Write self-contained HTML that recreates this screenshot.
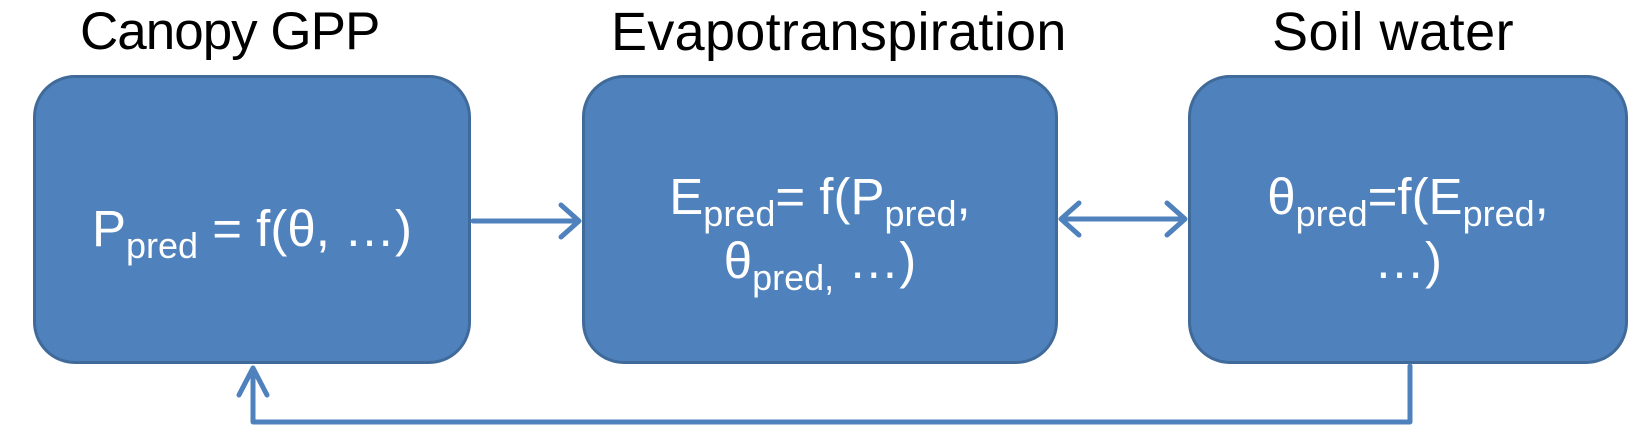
<!DOCTYPE html>
<html><head><meta charset="utf-8"><style>
html,body{margin:0;padding:0;background:#fff;}
body{width:1646px;height:448px;position:relative;overflow:hidden;font-family:"Liberation Sans",sans-serif;}
.t{position:absolute;top:0px;font-size:53px;color:#000;white-space:nowrap;line-height:64px;}
.b{position:absolute;top:75px;height:289px;background:#4F81BD;border:3px solid #3F6A99;border-radius:42px;box-sizing:border-box;color:#fff;font-size:51px;text-align:center;display:flex;align-items:center;justify-content:center;line-height:64px;padding-top:18px;}
sub{font-size:36px;vertical-align:-12px;line-height:0;}
</style></head><body>
<div class="t" style="left:80px;letter-spacing:-1px">Canopy GPP</div>
<div class="t" style="left:611px;font-size:54px;letter-spacing:0.3px">Evapotranspiration</div>
<div class="t" style="left:1272px;font-size:54px;letter-spacing:0.5px">Soil water</div>
<div class="b" style="left:33px;width:438px"><div>P<sub>pred</sub> = f(θ, …)</div></div>
<div class="b" style="left:582px;width:476px"><div>E<sub>pred</sub>= f(P<sub>pred</sub>,<br>θ<sub>pred,</sub> …)</div></div>
<div class="b" style="left:1188px;width:440px"><div>θ<sub>pred</sub>=f(E<sub>pred</sub>,<br>…)</div></div>
<svg width="1646" height="448" style="position:absolute;left:0;top:0" fill="none" stroke="#4F81BD" stroke-width="5" stroke-linecap="round" stroke-linejoin="round">
<path d="M473 221H579M561 205L579 221L561 237"/>
<path d="M1061 219H1185M1079 203L1061 219L1079 235M1167 203L1185 219L1167 235"/>
<path d="M1410 366V422H253V368M239 395L253 368L267 395"/>
</svg>
</body></html>
